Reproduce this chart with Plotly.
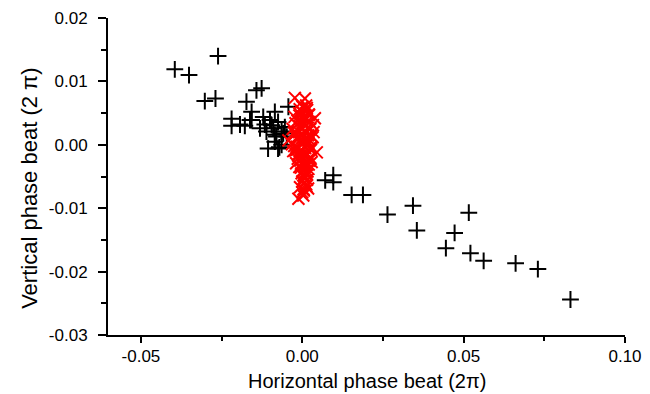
import plotly.graph_objects as go

# Black "+" series (horizontal, vertical phase beat)
black_x = [-0.0395, -0.0351, -0.0261, -0.0302, -0.0269, -0.0173, -0.0142, -0.0126,
           -0.0157, -0.0219, -0.0193, -0.0178, -0.0219, -0.0157, -0.0121, -0.0085,
           -0.0043, -0.0116, -0.0095, -0.0075, -0.0111, -0.0085, -0.0064, -0.0085,
           -0.0064, -0.0106, -0.0075, -0.0090, -0.0131, -0.0100, -0.0048, -0.0054,
           -0.0162, -0.0080, -0.0071, -0.0059,
           0.0071, 0.0096, 0.0096, 0.0153, 0.0188, 0.0264, 0.0343, 0.0355, 0.0445,
           0.0472, 0.0516, 0.0521, 0.0562, 0.0661, 0.0730, 0.0831]
black_y = [0.0119, 0.0110, 0.0140, 0.0069, 0.0073, 0.0068, 0.0086, 0.0089,
           0.0052, 0.0041, 0.0032, 0.0030, 0.0030, 0.0039, 0.0044, 0.0052,
           0.0060, 0.0032, 0.0031, 0.0036, 0.0021, 0.0016, 0.0021, 0.0005,
           0.0000, -0.0006, -0.0006, 0.0026, 0.0026, 0.0039, 0.0013, 0.0028,
           0.0039, 0.0013, -0.0004, 0.0018,
           -0.0056, -0.0048, -0.0059, -0.0079, -0.0079, -0.0110, -0.0096, -0.0135, -0.0163,
           -0.0139, -0.0107, -0.0171, -0.0183, -0.0187, -0.0196, -0.0244]

# Red "x" series
red_x = [-0.0023, 0.0008, -0.0007, 0.0033, 0.0045, 0.0029, 0.0003, -0.0007, 0.0018,
         0.0003, -0.0012, 0.0039, -0.0043, 0.0015, 0.0020, -0.0010, 0.0005, 0.0012,
         -0.0015, 0.0000, 0.0010, 0.0025, -0.0005, 0.0008, -0.0020, 0.0018, 0.0002,
         -0.0012, 0.0022, 0.0006, -0.0003, 0.0014, -0.0018, 0.0009, 0.0027, -0.0008,
         0.0004, 0.0016, -0.0025, 0.0011, 0.0001, -0.0014, 0.0021, 0.0007, -0.0004,
         0.0013, -0.0009, 0.0019, 0.0003, -0.0016, 0.0010, 0.0024, -0.0002, 0.0006,
         -0.0011, 0.0015, 0.0000, 0.0008, -0.0006, 0.0012, 0.0004, -0.0003, 0.0009,
         0.0017, -0.0010, 0.0002, 0.0011, -0.0005, 0.0006, 0.0001, 0.0014, -0.0001,
         0.0005, -0.0030, 0.0032, -0.0028, 0.0026, 0.0000,
         -0.0021, 0.0023, -0.0017, 0.0028, -0.0026, 0.0019, -0.0013, 0.0030, -0.0022,
         0.0024, -0.0019, 0.0016, -0.0024, 0.0021, 0.0012, -0.0008, 0.0035, -0.0032,
         0.0007, 0.0013, -0.0004, 0.0020, 0.0010, -0.0009, 0.0004, 0.0015]
red_y = [0.0074, 0.0073, 0.0065, 0.0031, -0.0012, -0.0027, -0.0048, -0.0067, -0.0069,
         -0.0080, -0.0085, 0.0042, 0.0007, 0.0055, 0.0048, 0.0050, 0.0045, 0.0040,
         0.0038, 0.0035, 0.0030, 0.0025, 0.0028, 0.0022, 0.0018, 0.0015, 0.0012,
         0.0010, 0.0008, 0.0005, 0.0002, 0.0000, -0.0003, -0.0005, -0.0008, -0.0010,
         -0.0012, -0.0015, -0.0002, -0.0018, -0.0020, -0.0022, -0.0025, -0.0028,
         -0.0030, -0.0032, -0.0035, -0.0038, -0.0040, -0.0008, -0.0043, -0.0005,
         -0.0045, -0.0050, -0.0014, -0.0055, -0.0058, -0.0060, -0.0025, -0.0062,
         0.0042, 0.0038, 0.0033, 0.0027, 0.0020, 0.0016, 0.0009, 0.0004, -0.0033,
         0.0060, 0.0058, 0.0052, -0.0072, 0.0025, 0.0012, -0.0010, -0.0022, -0.0075,
         0.0034, 0.0036, 0.0011, 0.0014, 0.0019, 0.0003, -0.0017, -0.0004, -0.0009,
         -0.0020, -0.0029, -0.0042, 0.0044, 0.0047, 0.0062, 0.0056, 0.0020, 0.0001,
         -0.0052, -0.0065, -0.0036, -0.0031, 0.0007, 0.0046, -0.0070, -0.0047]

x_tickvals = [-0.05, 0.0, 0.05, 0.10]
x_ticktext = ["-0.05", "0.00", "0.05", "0.10"]
x_minor = [-0.025, 0.025, 0.075]
y_tickvals = [0.02, 0.01, 0.0, -0.01, -0.02, -0.03]
y_ticktext = ["0.02", "0.01", "0.00", "-0.01", "-0.02", "-0.03"]
y_minor = [0.015, 0.005, -0.005, -0.015, -0.025]

FONT = "Liberation Sans, Arial, Helvetica, sans-serif"

fig = go.Figure()
fig.add_trace(go.Scatter(
    x=black_x, y=black_y, mode="markers",
    marker=dict(symbol="cross-thin", size=12, color="black",
                line=dict(color="black", width=2)),
    showlegend=False))
fig.add_trace(go.Scatter(
    x=red_x, y=red_y, mode="markers",
    marker=dict(symbol="x-thin", size=12, color="red",
                line=dict(color="red", width=2)),
    showlegend=False))

axis_common = dict(
    showgrid=False, zeroline=False, showline=True, linecolor="black", linewidth=2,
    ticks="outside", tickwidth=1.5, tickcolor="black",
    tickfont=dict(family=FONT, size=17, color="black"),
    mirror=False, automargin=False,
)

fig.update_xaxes(
    range=[-0.0602, 0.10], tickvals=x_tickvals, ticktext=x_ticktext,
    ticklen=6, ticklabelstandoff=-1,
    minor=dict(tickvals=x_minor, ticklen=4, tickwidth=1.5,
               tickcolor="black", ticks="outside", showgrid=False),
    **axis_common)
fig.update_yaxes(
    range=[-0.03, 0.02], tickvals=y_tickvals, ticktext=y_ticktext,
    ticklen=8, ticklabelstandoff=7,
    minor=dict(tickvals=y_minor, ticklen=5,
               tickwidth=1.5, tickcolor="black", ticks="outside", showgrid=False),
    **axis_common)

fig.add_annotation(text="Horizontal phase beat (2π)", xref="paper", yref="paper",
                   x=0.5, y=-0.145, xanchor="center", yanchor="middle",
                   showarrow=False, font=dict(family=FONT, size=20, color="black"))
fig.add_annotation(text="Vertical phase beat (2 π)", xref="paper", yref="paper",
                   x=-0.151, y=0.464, xanchor="center", yanchor="middle",
                   textangle=-90, showarrow=False,
                   font=dict(family=FONT, size=22, color="black"))

fig.update_layout(
    width=650, height=394,
    margin=dict(l=108, r=25, t=18, b=59),
    paper_bgcolor="white", plot_bgcolor="white",
)

fig.write_html("out.html")
